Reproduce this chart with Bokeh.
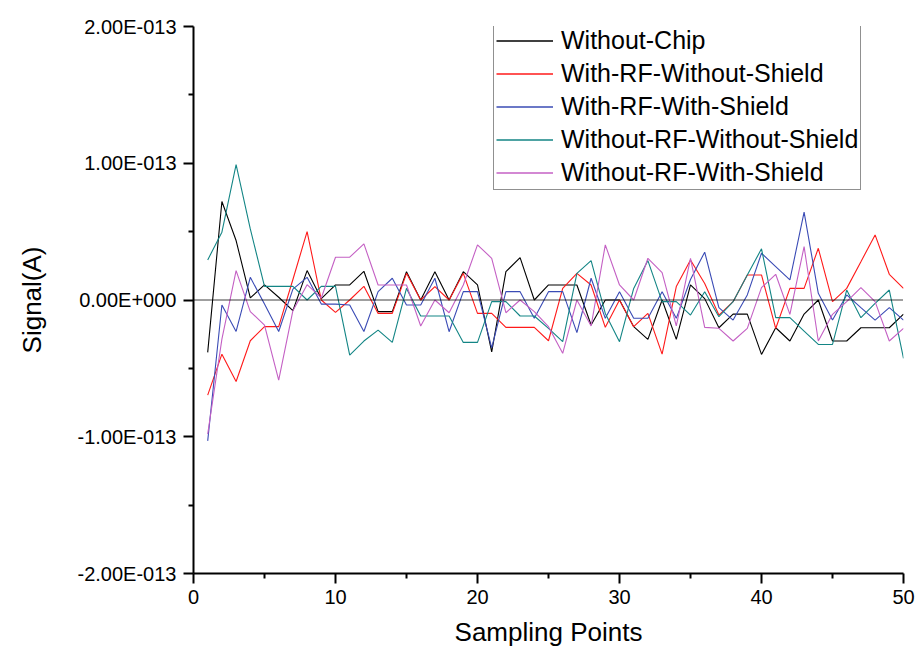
from bokeh.plotting import figure
from bokeh.models import (Range1d, FixedTicker, CustomJSTickFormatter, Span,
                          Legend, LegendItem, ColumnDataSource)
from bokeh.embed import file_html
from bokeh.resources import INLINE

# ---- data (values in units of 1e-14 A) ----
sampling_points = list(range(1, 51))

without_chip = [-3.83, 7.2, 4.35, 0.15, 1.1, 0.2, -0.78, 2.15, 0.1, 1.1,
                1.1, 2.1, -0.85, -0.85, 2.07, 0.0, 2.07, 0.0, 2.07, 1.1,
                -3.8, 2.07, 3.1, 0.0, 1.1, 1.1, 1.1, -1.83, 0.0, 0.0,
                -1.95, -2.88, 0.0, -2.88, 1.1, 0.1, -2.03, -1.03, -1.03, -3.98,
                -2.03, -3.0, -1.03, 0.0, -3.0, -3.0, -2.03, -2.03, -2.03, -1.03]

with_rf_without_shield = [-6.96, -3.96, -5.96, -2.98, -1.95, -1.95, 1.5, 5.0, 0.0, -0.9,
                          0.0, 1.0, -0.98, -0.98, 1.95, 0.0, 0.98, 0.0, 1.95, -0.98,
                          -0.98, -2.0, -2.0, -2.0, -2.98, 0.85, 1.95, 1.1, -2.0, 0.0,
                          -1.95, -0.98, -3.96, 0.98, 2.93, 1.2, -1.1, -0.12, 1.83, 1.83,
                          -2.08, 0.85, 0.85, 3.78, -0.12, 0.85, 2.8, 4.76, 1.88, 0.85]

with_rf_with_shield = [-10.3, -0.37, -2.3, 1.66, -0.3, -2.3, 0.8, 1.66, -0.3, -0.3,
                       -0.37, -2.3, 0.61, 1.59, -0.37, -0.37, 1.59, -2.32, 0.61, 0.61,
                       -3.5, 0.61, 0.61, -1.34, 0.61, 0.61, -2.39, 1.59, -1.34, 0.61,
                       -1.34, -1.34, 0.61, -1.34, 1.5, 3.5, -0.56, -1.47, 0.37, 3.42,
                       2.44, 1.47, 6.42, 0.49, -1.47, 0.37, -0.56, -1.47, -0.56, -1.47]

without_rf_without_shield = [2.93, 4.96, 9.9, 5.2, 1.0, 1.0, 1.0, 0.0, 1.0, 1.0,
                             -4.03, -3.0, -2.2, -3.1, 0.85, -1.17, -1.17, -1.17, -3.1, -3.1,
                             -0.12, -0.12, -1.17, -1.17, -2.07, -3.05, 1.95, 2.88, -0.98, -3.05,
                             0.85, 2.88, -0.12, -0.12, -1.1, 0.6, -1.22, -0.12, 1.83, 3.74,
                             -1.29, -1.29, -2.27, -3.25, -3.25, 0.73, -1.29, -0.24, 0.73, -4.27]

without_rf_with_shield = [-9.8, -2.86, 2.15, -0.85, -1.83, -5.86, -0.78, 1.12, 0.15, 3.13,
                          3.13, 4.1, 1.1, 1.1, 1.1, -1.9, 0.0, -0.93, 1.1, 4.03,
                          3.05, -0.93, 0.0, -0.85, -1.95, -3.9, 0.0, -1.9, 4.03, 1.1,
                          0.0, 3.05, 2.0, -1.9, 3.05, -2.0, -2.07, -3.0, -2.07, 0.9,
                          1.88, -1.05, 3.9, -3.0, -1.05, -0.12, 0.9, -0.12, -3.0, -2.07]

series_names = ["Without-Chip", "With-RF-Without-Shield", "With-RF-With-Shield",
                "Without-RF-Without-Shield", "Without-RF-With-Shield"]
series_values = [without_chip, with_rf_without_shield, with_rf_with_shield,
                 without_rf_without_shield, without_rf_with_shield]
series_colors = ["#000000", "#FF1A1A", "#3A4BB5", "#138585", "#C460C4"]

x_ticks = [0, 10, 20, 30, 40, 50]
x_minor = [5, 15, 25, 35, 45]
y_ticks = [-2e-13, -1e-13, 0.0, 1e-13, 2e-13]
y_minor = [-1.5e-13, -0.5e-13, 0.5e-13, 1.5e-13]

FONT = "Liberation Sans"

p = figure(width=916, height=654, output_backend="svg", toolbar_location=None,
           x_range=Range1d(0, 50), y_range=Range1d(-2e-13, 2e-13),
           min_border_left=193, min_border_right=13, min_border_top=26,
           min_border_bottom=81)
p.outline_line_color = None
p.xgrid.visible = False
p.ygrid.visible = False
p.background_fill_color = "white"
p.border_fill_color = "white"

# zero dotted line
p.add_layout(Span(location=0, dimension="width", line_color="black",
                  line_width=1.3, line_dash="1 1"))

legend_items = []
for name, vals, col in zip(series_names, series_values, series_colors):
    src = ColumnDataSource(dict(x=sampling_points, y=[v * 1e-14 for v in vals]))
    p.line("x", "y", source=src, line_color=col, line_width=1.1)
    # legend-only proxy renderer (a single NaN point, draws nothing in the plot)
    proxy = p.line(x=[1], y=[float("nan")], line_color=col, line_width=1.5)
    legend_items.append(LegendItem(label=name, renderers=[proxy]))

# axes
for ax in (p.xaxis[0], p.yaxis[0]):
    ax.axis_line_width = 2
    ax.axis_line_color = "black"
    ax.major_tick_line_width = 2
    ax.minor_tick_line_width = 2
    ax.major_tick_in = 0
    ax.minor_tick_in = 0
    ax.major_tick_out = 10
    ax.minor_tick_out = 5
    ax.major_label_text_font = FONT
    ax.major_label_text_font_size = "20px"
    ax.major_label_text_color = "black"
    ax.axis_label_text_font = FONT
    ax.axis_label_text_font_size = "26px"
    ax.axis_label_text_font_style = "normal"
    ax.axis_label_text_color = "black"

p.xaxis.ticker = FixedTicker(ticks=x_ticks, minor_ticks=x_minor)
p.xaxis.axis_label = "Sampling Points"
p.xaxis.major_label_standoff = 6
p.xaxis.axis_label_standoff = 10

p.yaxis.ticker = FixedTicker(ticks=y_ticks, minor_ticks=y_minor)
p.yaxis.axis_label = "Signal(A)"
p.yaxis.major_label_standoff = 7
p.yaxis.axis_label_standoff = 28
p.yaxis.formatter = CustomJSTickFormatter(code="""
if (Math.abs(tick) < 1e-20) { return "0.00E+000"; }
const s = tick < 0 ? "-" : "";
const a = Math.abs(tick);
let e = Math.floor(Math.log10(a) + 1e-9);
let m = a / Math.pow(10, e);
if (m >= 9.995) { m /= 10; e += 1; }
const es = (e < 0 ? "-" : "+") + String(Math.abs(e)).padStart(3, "0");
return s + m.toFixed(2) + "E" + es;
""")

legend = Legend(items=legend_items, location=(300, 383))
legend.label_text_font = FONT
legend.label_text_font_size = "25px"
legend.label_text_color = "black"
legend.glyph_width = 57
legend.glyph_height = 25
legend.label_height = 25
legend.label_standoff = 8
legend.spacing = 4
legend.padding = 2
legend.margin = 0
legend.border_line_color = "#222222"
legend.border_line_width = 1
legend.background_fill_alpha = 1
p.add_layout(legend)

open("out.html", "w").write(file_html(p, INLINE))
